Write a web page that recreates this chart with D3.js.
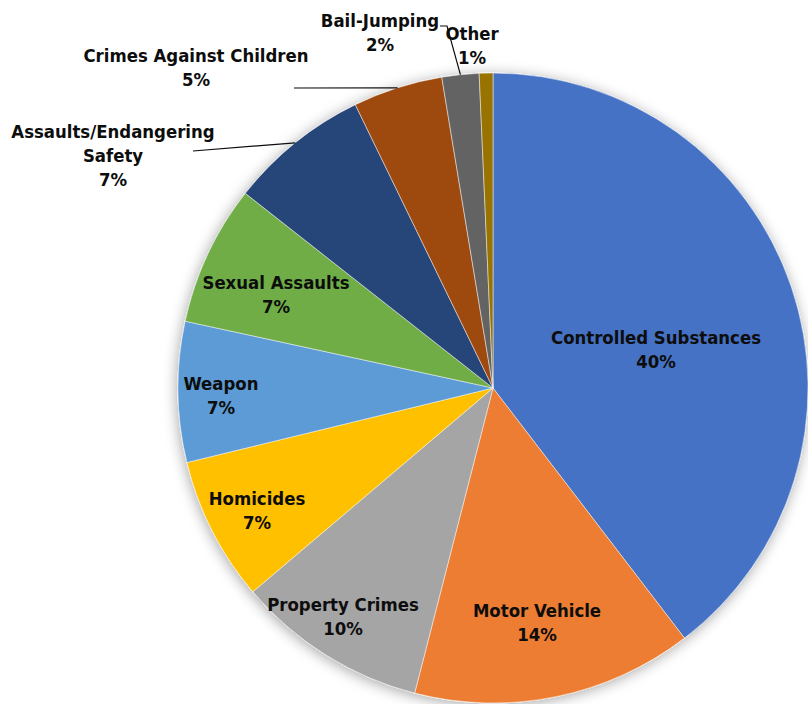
<!DOCTYPE html>
<html>
<head>
<meta charset="utf-8">
<script src="https://cdn.jsdelivr.net/npm/d3@7"></script>
<style>
  html, body { margin: 0; padding: 0; background: #fff; }
  svg { display: block; }
  .lbl { font-family: "DejaVu Sans Condensed", "DejaVu Sans", sans-serif; font-stretch: condensed; font-weight: bold; font-size: 18.4px; fill: #0d0d0d; }
</style>
</head>
<body>
<svg id="chart" width="808" height="704"></svg>
<script>
// Case categories and their share of the total (percent)
const categories = [
  "Controlled Substances", "Motor Vehicle", "Property Crimes", "Homicides", "Weapon",
  "Sexual Assaults", "Assaults/Endangering Safety", "Crimes Against Children", "Bail-Jumping", "Other"
];
const shares = [39.6, 14.4, 9.8, 7.4, 7.2, 7.2, 7.2, 4.6, 1.9, 0.7];
const colors = [
  "#4472C4", "#ED7D31", "#A5A5A5", "#FFC000", "#5B9BD5",
  "#70AD47", "#264478", "#9E480E", "#636363", "#997300"
];

// Label text lines and label anchor positions (centre of first line)
const labelLines = {
  "Controlled Substances": ["Controlled Substances"],
  "Motor Vehicle": ["Motor Vehicle"],
  "Property Crimes": ["Property Crimes"],
  "Homicides": ["Homicides"],
  "Weapon": ["Weapon"],
  "Sexual Assaults": ["Sexual Assaults"],
  "Assaults/Endangering Safety": ["Assaults/Endangering", "Safety"],
  "Crimes Against Children": ["Crimes Against Children"],
  "Bail-Jumping": ["Bail-Jumping"],
  "Other": ["Other"]
};
const labelPos = {
  "Controlled Substances": [656, 337],
  "Motor Vehicle": [537, 610],
  "Property Crimes": [343, 604],
  "Homicides": [257, 498],
  "Weapon": [221, 383],
  "Sexual Assaults": [276, 282],
  "Assaults/Endangering Safety": [113, 131],
  "Crimes Against Children": [196, 55],
  "Bail-Jumping": [380, 20],
  "Other": [472, 33]
};
// Leader line start points for labels placed outside the pie
const leaderStart = {
  "Assaults/Endangering Safety": [[193, 151]],
  "Crimes Against Children": [[294, 88]],
  "Bail-Jumping": [[440, 26], [447, 26]]
};

const cx = 493, cy = 388, r = 315;
const svg = d3.select("#chart");

const defs = svg.append("defs");
const f = defs.append("filter").attr("id", "shadow")
  .attr("x", "-10%").attr("y", "-10%").attr("width", "120%").attr("height", "120%");
f.append("feDropShadow").attr("dx", -1).attr("dy", 2).attr("stdDeviation", 7)
  .attr("flood-color", "#000").attr("flood-opacity", 0.35);

const data = categories.map((c, i) => ({ name: c, value: shares[i], color: colors[i] }));
const pie = d3.pie().value(d => d.value).sort(null);
const arcs = pie(data);
const arc = d3.arc().innerRadius(0).outerRadius(r);

const g = svg.append("g").attr("transform", `translate(${cx},${cy})`);
g.append("g").attr("filter", "url(#shadow)")
  .selectAll("path").data(arcs).join("path")
  .attr("d", arc)
  .attr("fill", d => d.data.color)
  .attr("stroke", "#fff")
  .attr("stroke-opacity", 0.6)
  .attr("stroke-width", 0.8);

// Leader lines from outside labels to the slice's outer edge
const edgePoint = a => {
  const m = (a.startAngle + a.endAngle) / 2;
  return [cx + r * Math.sin(m), cy - r * Math.cos(m)];
};
arcs.forEach(a => {
  const s = leaderStart[a.data.name];
  if (!s) return;
  const pts = s.concat([edgePoint(a)]);
  svg.append("path")
    .attr("d", d3.line()(pts))
    .attr("fill", "none")
    .attr("stroke", "#0d0d0d")
    .attr("stroke-width", 1.2);
});

// Category labels with rounded percentages
const total = d3.sum(shares);
arcs.forEach(a => {
  const [x, y] = labelPos[a.data.name];
  const lines = labelLines[a.data.name].concat([Math.round(a.data.value / total * 100) + "%"]);
  const t = svg.append("text").attr("class", "lbl").attr("text-anchor", "middle");
  lines.forEach((ln, i) => {
    t.append("tspan").attr("x", x).attr("y", y + i * 24).attr("dy", "0.36em").text(ln);
  });
});
</script>
</body>
</html>
